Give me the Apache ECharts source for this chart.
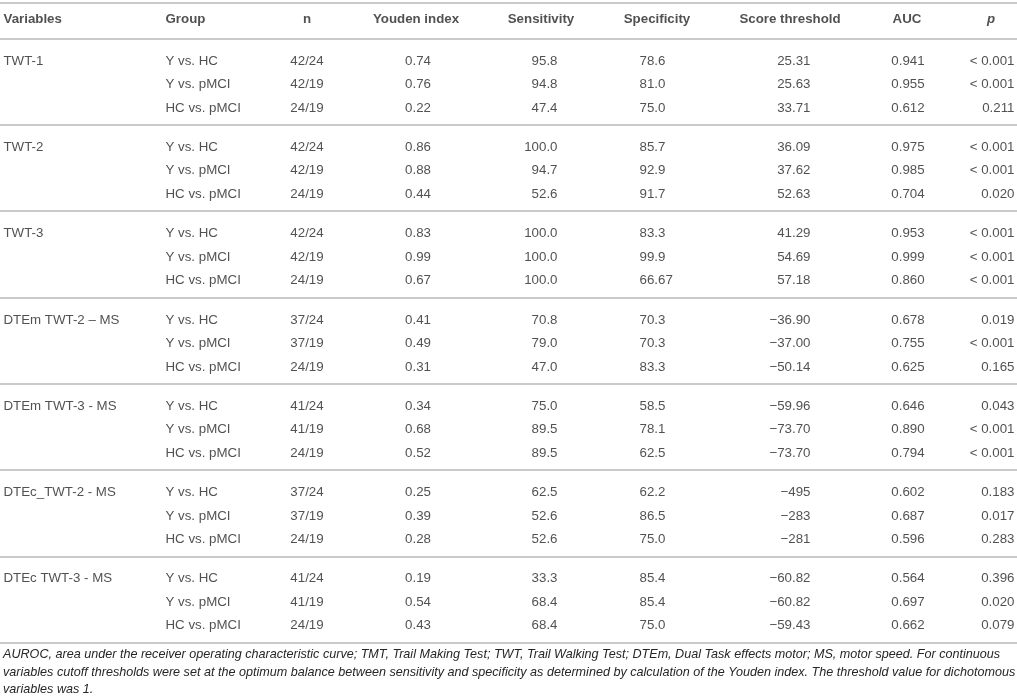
<!DOCTYPE html>
<html>
<head>
<meta charset="utf-8">
<script src="https://cdn.jsdelivr.net/npm/echarts@6/dist/echarts.min.js"></script>
<style>
  html, body { margin: 0; padding: 0; background: #fff; }
  #main { width: 1017px; height: 700px; }
</style>
</head>
<body>
<div id="main"></div>
<script>
// table content
var variables = ['TWT-1', 'TWT-2', 'TWT-3', 'DTEm TWT-2 \u2013 MS', 'DTEm TWT-3 - MS', 'DTEc_TWT-2 - MS', 'DTEc TWT-3 - MS'];
var groups = ['Y vs. HC', 'Y vs. pMCI', 'HC vs. pMCI'];
var nValues = ['42/24', '42/19', '24/19', '42/24', '42/19', '24/19', '42/24', '42/19', '24/19',
  '37/24', '37/19', '24/19', '41/24', '41/19', '24/19', '37/24', '37/19', '24/19', '41/24', '41/19', '24/19'];
var youden = ['0.74', '0.76', '0.22', '0.86', '0.88', '0.44', '0.83', '0.99', '0.67',
  '0.41', '0.49', '0.31', '0.34', '0.68', '0.52', '0.25', '0.39', '0.28', '0.19', '0.54', '0.43'];
var sensitivity = ['95.8', '94.8', '47.4', '100.0', '94.7', '52.6', '100.0', '100.0', '100.0',
  '70.8', '79.0', '47.0', '75.0', '89.5', '89.5', '62.5', '52.6', '52.6', '33.3', '68.4', '68.4'];
var specificity = ['78.6', '81.0', '75.0', '85.7', '92.9', '91.7', '83.3', '99.9', '66.67',
  '70.3', '70.3', '83.3', '58.5', '78.1', '62.5', '62.2', '86.5', '75.0', '85.4', '85.4', '75.0'];
var threshold = ['25.31', '25.63', '33.71', '36.09', '37.62', '52.63', '41.29', '54.69', '57.18',
  '\u221236.90', '\u221237.00', '\u221250.14', '\u221259.96', '\u221273.70', '\u221273.70',
  '\u2212495', '\u2212283', '\u2212281', '\u221260.82', '\u221260.82', '\u221259.43'];
var auc = ['0.941', '0.955', '0.612', '0.975', '0.985', '0.704', '0.953', '0.999', '0.860',
  '0.678', '0.755', '0.625', '0.646', '0.890', '0.794', '0.602', '0.687', '0.596', '0.564', '0.697', '0.662'];
var pValues = ['< 0.001', '< 0.001', '0.211', '< 0.001', '< 0.001', '0.020', '< 0.001', '< 0.001', '< 0.001',
  '0.019', '< 0.001', '0.165', '0.043', '< 0.001', '< 0.001', '0.183', '0.017', '0.283', '0.396', '0.020', '0.079'];
var footnote = [
  'AUROC, area under the receiver operating characteristic curve; TMT, Trail Making Test; TWT, Trail Walking Test; DTEm, Dual Task effects motor; MS, motor speed. For continuous',
  'variables cutoff thresholds were set at the optimum balance between sensitivity and specificity as determined by calculation of the Youden index. The threshold value for dichotomous',
  'variables was 1.'
];

// layout (axis units are page pixels)
var FONT = '"Liberation Sans", Arial, Helvetica, sans-serif';
var TEXT = '#262626';
var HEAD_Y = 19.5, HEAD_RULE = 38.5, GROUP_H = 86.3, FIRST_ROW = 22.5, ROW_H = 23.5;

// column anchors: where the header and the cells sit and how they align
var columns = [
  { head: 'Variables', hx: 3, hAlign: 'left', x: 3, align: 'left', cells: null },
  { head: 'Group', hx: 165, hAlign: 'left', x: 165, align: 'left', cells: null },
  { head: 'n', hx: 307, hAlign: 'center', x: 307, align: 'center', cells: nValues },
  { head: 'Youden index', hx: 416, hAlign: 'center', x: 418, align: 'center', cells: youden },
  { head: 'Sensitivity', hx: 541, hAlign: 'center', x: 558, align: 'right', cells: sensitivity },
  { head: 'Specificity', hx: 657, hAlign: 'center', x: 639, align: 'left', cells: specificity },
  { head: 'Score threshold', hx: 790, hAlign: 'center', x: 811, align: 'right', cells: threshold },
  { head: 'AUC', hx: 907, hAlign: 'center', x: 908, align: 'center', cells: auc },
  { head: 'p', hx: 991, hAlign: 'center', x: 1015, align: 'right', cells: pValues, italicHead: true }
];

function rowY(i) {
  return HEAD_RULE + Math.floor(i / 3) * GROUP_H + FIRST_ROW + (i % 3) * ROW_H;
}

var posFor = { left: 'right', right: 'left', center: 'inside' };

function cellSeries(name, items, align, bold, italic) {
  return {
    name: name,
    type: 'scatter',
    symbolSize: 1,
    itemStyle: { color: 'rgba(0,0,0,0)' },
    silent: true,
    z: 5,
    data: items,
    label: {
      show: true,
      position: posFor[align],
      distance: 0,
      formatter: function (p) { return p.value[2]; },
      color: TEXT,
      fontFamily: FONT,
      fontSize: 13.3,
      fontWeight: bold ? 'bold' : 'normal',
      fontStyle: italic ? 'italic' : 'normal'
    }
  };
}

var series = [];
columns.forEach(function (c) {
  series.push(cellSeries(c.head + ' head', [[c.hx, HEAD_Y, c.head]], c.hAlign, true, !!c.italicHead));
});

// first two columns: variable names once per block, group labels every row
series.push(cellSeries('Variables', variables.map(function (v, g) {
  return [columns[0].x, rowY(g * 3), v];
}), 'left'));
var groupCells = [];
variables.forEach(function (v, g) {
  groups.forEach(function (gr, k) { groupCells.push([columns[1].x, rowY(g * 3 + k), gr]); });
});
series.push(cellSeries('Group', groupCells, 'left'));

columns.slice(2).forEach(function (c) {
  series.push(cellSeries(c.head, c.cells.map(function (t, i) {
    return [c.x, rowY(i), t];
  }), c.align));
});

// horizontal rules: top, under header, after every block
var rules = [2.5, HEAD_RULE];
variables.forEach(function (v, g) { rules.push(HEAD_RULE + (g + 1) * GROUP_H); });
series[0].markLine = {
  silent: true,
  symbol: 'none',
  animation: false,
  label: { show: false },
  lineStyle: { color: '#b8b8b8', width: 1.6, type: 'solid' },
  data: rules.map(function (y) { return { yAxis: y }; })
};

var myChart = echarts.init(document.getElementById('main'));
myChart.setOption({
  animation: false,
  backgroundColor: '#fff',
  title: {
    text: footnote.join('\n'),
    left: 3,
    top: 646,
    padding: 0,
    textStyle: {
      fontFamily: FONT,
      fontSize: 12.6,
      fontStyle: 'italic',
      fontWeight: 'normal',
      color: TEXT,
      lineHeight: 17.5
    }
  },
  grid: { left: 0, right: 0, top: 0, bottom: 0 },
  xAxis: { type: 'value', min: 0, max: 1017, show: false },
  yAxis: { type: 'value', min: 0, max: 700, inverse: true, show: false },
  series: series
});
</script>
</body>
</html>
